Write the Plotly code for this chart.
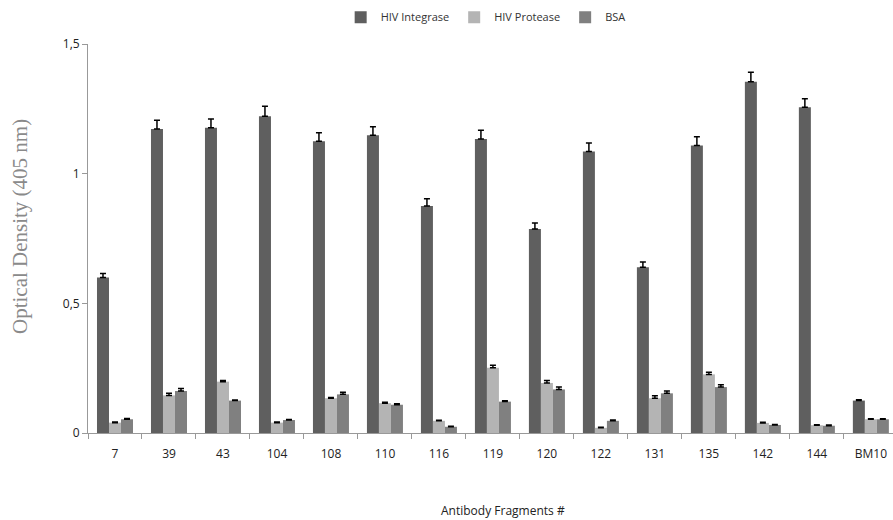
import plotly.graph_objects as go

categories = ["7", "39", "43", "104", "108", "110", "116", "119", "120", "122", "131", "135", "142", "144", "BM10"]

integrase = [0.60, 1.172, 1.177, 1.221, 1.125, 1.148, 0.875, 1.134, 0.787, 1.085, 0.639, 1.109, 1.354, 1.256, 0.125]
integrase_err = [0.015, 0.034, 0.034, 0.039, 0.033, 0.033, 0.028, 0.033, 0.023, 0.033, 0.020, 0.033, 0.037, 0.033, 0.003]

protease = [0.040, 0.145, 0.198, 0.040, 0.134, 0.115, 0.047, 0.252, 0.193, 0.020, 0.134, 0.226, 0.039, 0.030, 0.053]
protease_err = [0.002, 0.008, 0.004, 0.002, 0.003, 0.004, 0.002, 0.009, 0.009, 0.002, 0.010, 0.008, 0.002, 0.002, 0.002]

bsa = [0.053, 0.162, 0.125, 0.050, 0.149, 0.109, 0.024, 0.121, 0.168, 0.047, 0.153, 0.177, 0.031, 0.028, 0.053]
bsa_err = [0.003, 0.010, 0.002, 0.002, 0.008, 0.004, 0.002, 0.003, 0.009, 0.003, 0.009, 0.009, 0.002, 0.003, 0.002]

series = [
    ("HIV Integrase", integrase, integrase_err, "rgb(95,95,95)"),
    ("HIV Protease", protease, protease_err, "rgb(180,180,180)"),
    ("BSA", bsa, bsa_err, "rgb(128,128,128)"),
]

fig = go.Figure()
for name, vals, errs, col in series:
    fig.add_trace(go.Bar(
        name=name, x=categories, y=vals,
        marker=dict(color=col, line=dict(width=0)),
        error_y=dict(type="data", array=errs, arrayminus=[0] * len(errs), symmetric=False,
                     color="black", thickness=1.5, width=3),
    ))

fig.update_layout(
    width=893, height=520,
    margin=dict(l=88, r=0, t=44, b=87),
    paper_bgcolor="white", plot_bgcolor="white",
    barmode="group", bargap=0.333, bargroupgap=0,
    separators=",.",
    font=dict(family="Open Sans", size=12, color="#222"),
    showlegend=True,
    legend=dict(orientation="h", x=0.494, xanchor="center", y=1.069, yanchor="middle",
                font=dict(size=11, color="#333"), itemsizing="constant"),
    xaxis=dict(
        type="category", range=[-0.5, 14.41],
        showline=True, linecolor="#999", linewidth=1,
        ticks="outside", tickson="boundaries", ticklen=5, tickcolor="#999",
        tickfont=dict(size=12, color="#222"), ticklabelstandoff=10,
        showgrid=False, zeroline=False,
    ),
    yaxis=dict(
        range=[0, 1.5], tickvals=[0, 0.5, 1, 1.5],
        showline=True, linecolor="#999", linewidth=1,
        ticks="outside", ticklen=5, tickcolor="#999",
        tickfont=dict(size=12, color="#222"),
        showgrid=False, zeroline=False,
    ),
    annotations=[
        dict(text="Antibody Fragments #", xref="paper", yref="paper", x=0.515, y=-0.2005,
             xanchor="center", yanchor="middle", showarrow=False,
             font=dict(family="Open Sans", size=12, color="#222")),
        dict(text="Optical Density (405 nm)", xref="paper", yref="paper", x=-0.0845, y=0.532,
             xanchor="center", yanchor="middle", textangle=-90, showarrow=False,
             font=dict(family="Liberation Serif", size=21, color="#8a8a8a")),
    ],
)

fig.write_html("out.html")
